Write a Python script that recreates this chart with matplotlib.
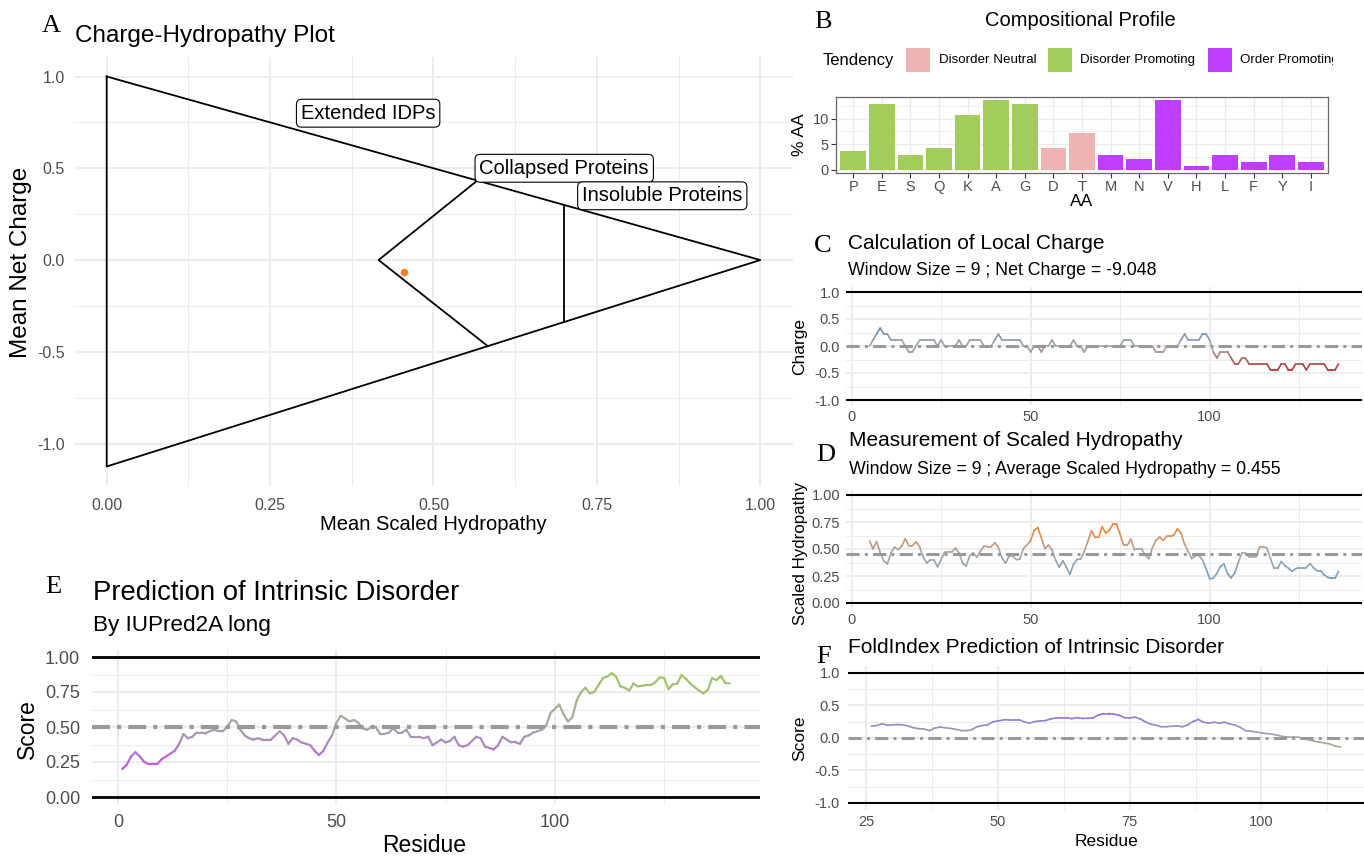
import numpy as np
import matplotlib
matplotlib.use("Agg")
import matplotlib.pyplot as plt
from matplotlib.collections import LineCollection
from matplotlib.colors import LinearSegmentedColormap, TwoSlopeNorm
from matplotlib.patches import Rectangle
from matplotlib.transforms import Bbox, TransformedBbox

plt.rcParams['font.family'] = ['Liberation Sans', 'DejaVu Sans']

W, H = 1364, 856

# ---------------- data ----------------
# A: charge-hydropathy plot
boundary_x = [0.0, 1.0, 0.0, 0.0]
boundary_y = [1.0, 0.0, -1.125, 1.0]
collapsed_x = [0.567, 0.416, 0.583]
collapsed_y = [0.433, 0.0, -0.469]
insoluble_x = [0.70, 0.70]
insoluble_y = [0.30, -0.3375]
region_labels = ['Extended IDPs', 'Collapsed Proteins', 'Insoluble Proteins']
region_label_x = [0.40, 0.70, 0.85]
region_label_y = [0.80, 0.50, 0.35]
protein_hydropathy = [0.455]
protein_charge = [-0.065]

# B: compositional profile
aa = ['P', 'E', 'S', 'Q', 'K', 'A', 'G', 'D', 'T', 'M', 'N', 'V', 'H', 'L', 'F', 'Y', 'I']
aa_pct = [3.57, 12.86, 2.86, 4.29, 10.71, 13.57, 12.86, 4.29, 7.14,
          2.86, 2.14, 13.57, 0.71, 2.86, 1.43, 2.86, 1.43]
aa_tendency = ['Disorder Promoting'] * 7 + ['Disorder Neutral'] * 2 + ['Order Promoting'] * 8
tendency_names = ['Disorder Neutral', 'Disorder Promoting', 'Order Promoting']
tendency_colors = {'Disorder Neutral': '#EEB4B4',
                   'Disorder Promoting': '#A2CD5A',
                   'Order Promoting': '#BF3EFF'}

# C: local charge (window 9), residues 5..136
charge_first = 5
local_charge = [
    0.0, 0.111, 0.222, 0.333, 0.222, 0.222, 0.111, 0.111, 0.111, 0.111,
    0.0, -0.111, -0.111, 0.0, 0.111, 0.111, 0.111, 0.111, 0.111, 0.0,
    0.111, 0.0, 0.0, 0.0, 0.0, 0.111, 0.0, 0.0, 0.111, 0.111,
    0.111, 0.111, 0.0, 0.0, 0.0, 0.111, 0.222, 0.111, 0.111, 0.111,
    0.111, 0.111, 0.111, 0.0, 0.0, -0.111, 0.0, 0.0, -0.111, 0.0,
    0.0, 0.111, 0.0, 0.0, 0.0, 0.0, 0.0, 0.111, 0.0, 0.0,
    -0.111, 0.0, 0.0, 0.0, 0.0, 0.0, 0.0, 0.0, 0.0, 0.0,
    0.0, 0.111, 0.111, 0.111, 0.0, 0.0, 0.0, 0.0, 0.0, 0.0,
    -0.111, -0.111, -0.111, 0.0, 0.0, 0.0, 0.0, 0.111, 0.222, 0.111,
    0.111, 0.111, 0.111, 0.222, 0.222, 0.111, -0.111, -0.222, -0.111, -0.111,
    -0.111, -0.222, -0.333, -0.333, -0.222, -0.222, -0.333, -0.333, -0.333, -0.333,
    -0.333, -0.333, -0.444, -0.444, -0.444, -0.333, -0.333, -0.444, -0.444, -0.333,
    -0.333, -0.333, -0.444, -0.333, -0.333, -0.333, -0.333, -0.333, -0.444, -0.444,
    -0.444, -0.333]

# D: scaled hydropathy (window 9), residues 5..136
hydro_first = 5
scaled_hydropathy = [
    0.574, 0.502, 0.568, 0.468, 0.390, 0.362, 0.462, 0.519, 0.494, 0.526,
    0.596, 0.531, 0.531, 0.565, 0.522, 0.427, 0.370, 0.400, 0.400, 0.335,
    0.400, 0.470, 0.474, 0.474, 0.509, 0.465, 0.370, 0.343, 0.438, 0.463,
    0.425, 0.481, 0.525, 0.523, 0.523, 0.558, 0.515, 0.420, 0.368, 0.436,
    0.436, 0.401, 0.406, 0.506, 0.537, 0.577, 0.672, 0.699, 0.604, 0.504,
    0.535, 0.491, 0.396, 0.331, 0.391, 0.331, 0.265, 0.360, 0.404, 0.407,
    0.478, 0.573, 0.668, 0.607, 0.611, 0.706, 0.646, 0.673, 0.730, 0.730,
    0.635, 0.535, 0.535, 0.591, 0.496, 0.500, 0.500, 0.443, 0.411, 0.510,
    0.580, 0.611, 0.581, 0.616, 0.616, 0.628, 0.685, 0.647, 0.543, 0.478,
    0.412, 0.437, 0.441, 0.398, 0.320, 0.225, 0.230, 0.273, 0.338, 0.362,
    0.272, 0.233, 0.277, 0.375, 0.465, 0.465, 0.427, 0.428, 0.428, 0.523,
    0.523, 0.509, 0.410, 0.320, 0.320, 0.385, 0.346, 0.322, 0.294, 0.317,
    0.327, 0.327, 0.327, 0.365, 0.327, 0.300, 0.300, 0.260, 0.237, 0.227,
    0.227, 0.293]
mean_hydropathy = 0.455

# E: IUPred2A long, residues 1..140
iupred_first = 1
iupred_score = [
    0.20, 0.23, 0.29, 0.32, 0.29, 0.25, 0.235, 0.235, 0.235, 0.27,
    0.29, 0.31, 0.33, 0.38, 0.45, 0.42, 0.43, 0.46, 0.46, 0.455,
    0.47, 0.48, 0.47, 0.47, 0.50, 0.55, 0.54, 0.48, 0.44, 0.42,
    0.41, 0.42, 0.41, 0.41, 0.41, 0.44, 0.47, 0.44, 0.38, 0.42,
    0.41, 0.39, 0.38, 0.37, 0.33, 0.30, 0.33, 0.39, 0.44, 0.53,
    0.58, 0.56, 0.54, 0.55, 0.53, 0.49, 0.48, 0.50, 0.50, 0.45,
    0.45, 0.46, 0.49, 0.46, 0.46, 0.48, 0.43, 0.43, 0.43, 0.42,
    0.43, 0.37, 0.39, 0.41, 0.39, 0.40, 0.43, 0.37, 0.36, 0.37,
    0.40, 0.43, 0.42, 0.36, 0.35, 0.34, 0.37, 0.43, 0.41, 0.39,
    0.39, 0.38, 0.43, 0.44, 0.46, 0.47, 0.48, 0.51, 0.60, 0.63,
    0.66, 0.59, 0.54, 0.57, 0.69, 0.75, 0.78, 0.74, 0.75, 0.80,
    0.85, 0.86, 0.885, 0.86, 0.79, 0.78, 0.76, 0.81, 0.79, 0.795,
    0.80, 0.80, 0.82, 0.855, 0.85, 0.77, 0.805, 0.81, 0.87, 0.845,
    0.81, 0.785, 0.76, 0.74, 0.765, 0.85, 0.835, 0.865, 0.815, 0.81]

# F: FoldIndex, residues 26..115
foldindex_first = 26
foldindex_score = [
    0.18, 0.19, 0.215, 0.195, 0.20, 0.205, 0.20, 0.18, 0.155, 0.14,
    0.135, 0.11, 0.15, 0.165, 0.155, 0.145, 0.13, 0.112, 0.11, 0.125,
    0.17, 0.19, 0.20, 0.245, 0.26, 0.275, 0.28, 0.28, 0.28, 0.245,
    0.225, 0.25, 0.26, 0.265, 0.29, 0.305, 0.31, 0.31, 0.295, 0.31,
    0.298, 0.30, 0.305, 0.35, 0.372, 0.372, 0.365, 0.346, 0.31, 0.305,
    0.318, 0.29, 0.245, 0.21, 0.193, 0.17, 0.172, 0.178, 0.183, 0.17,
    0.20, 0.25, 0.283, 0.24, 0.225, 0.24, 0.225, 0.24, 0.212, 0.195,
    0.16, 0.11, 0.102, 0.09, 0.075, 0.066, 0.056, 0.04, 0.022, 0.012,
    0.01, 0.01, -0.015, -0.03, -0.05, -0.065, -0.08, -0.095, -0.127, -0.14]

# ---------------- helpers ----------------
GRID = '#EBEBEB'
TICK = '#4D4D4D'
DOTDASH = (0, (4.3, 1.7, 1.0, 1.7))

fig = plt.figure(figsize=(W / 100, H / 100), dpi=100)
fig.patch.set_facecolor('white')


def px_axes(left, top, right, bottom):
    return fig.add_axes([left / W, 1 - bottom / H, (right - left) / W, (bottom - top) / H])


def ftext(x, y, s, **kw):
    return fig.text(x / W, 1 - y / H, s, **kw)


def minimal(ax, xmaj, xmin, ymaj, ymin, xlab, ylab, fs, xpad, ypad):
    for sp in ax.spines.values():
        sp.set_visible(False)
    ax.set_xticks(xmaj)
    ax.set_xticks(xmin, minor=True)
    ax.set_yticks(ymaj)
    ax.set_yticks(ymin, minor=True)
    ax.set_xticklabels(xlab)
    ax.set_yticklabels(ylab)
    ax.grid(True, which='major', color=GRID, lw=1.3)
    ax.grid(True, which='minor', color=GRID, lw=0.7)
    ax.set_axisbelow(True)
    ax.tick_params(which='both', length=0, labelsize=fs, labelcolor=TICK)
    ax.tick_params(axis='x', pad=xpad)
    ax.tick_params(axis='y', pad=ypad)


def gradient_line(ax, x, y, colors, vmin, vcenter, vmax, lw):
    cmap = LinearSegmentedColormap.from_list('grad', colors)
    norm = TwoSlopeNorm(vcenter=vcenter, vmin=vmin, vmax=vmax)
    x = np.asarray(x, float)
    y = np.asarray(y, float)
    pts = np.column_stack([x, y]).reshape(-1, 1, 2)
    segs = np.concatenate([pts[:-1], pts[1:]], axis=1)
    lc = LineCollection(segs, cmap=cmap, norm=norm, linewidths=lw,
                        capstyle='round', joinstyle='round', zorder=3)
    lc.set_array((y[:-1] + y[1:]) / 2)
    ax.add_collection(lc)


def panel_letter(x, y, s):
    ftext(x, y, s, family='Liberation Serif', fontsize=19, va='baseline', ha='left')


# ---------------- A: charge-hydropathy ----------------
ax_a = px_axes(74, 57, 793, 486)
ax_a.set_xlim(-0.05, 1.05)
ax_a.set_ylim(-1.23125, 1.10625)
minimal(ax_a, [0, 0.25, 0.5, 0.75, 1.0], [0.125, 0.375, 0.625, 0.875],
        [-1, -0.5, 0, 0.5, 1], [-0.75, -0.25, 0.25, 0.75],
        ['0.00', '0.25', '0.50', '0.75', '1.00'], ['-1.0', '-0.5', '0.0', '0.5', '1.0'],
        11.5, 8.5, 6.5)
ax_a.plot(boundary_x, boundary_y, color='black', lw=1.3, zorder=2)
ax_a.plot(collapsed_x, collapsed_y, color='black', lw=1.3, zorder=2)
ax_a.plot(insoluble_x, insoluble_y, color='black', lw=1.3, zorder=2)
for lbl, lx, ly in zip(region_labels, region_label_x, region_label_y):
    ax_a.text(lx, ly, lbl, ha='center', va='center', fontsize=14.5, zorder=4,
              bbox=dict(boxstyle='round,pad=0.22,rounding_size=0.25', fc='white', ec='black', lw=0.8))
ax_a.scatter(protein_hydropathy, protein_charge, s=30, color='#FF7F24', zorder=5, linewidths=0)
panel_letter(42, 32.5, 'A')
ftext(75, 42, 'Charge-Hydropathy Plot', fontsize=17.5, va='baseline')
ftext(433, 524, 'Mean Scaled Hydropathy', fontsize=14.5, ha='center', va='center')
ftext(21, 262, 'Mean Net Charge', fontsize=17.5, ha='center', va='center', rotation=90)

# ---------------- B: compositional profile ----------------
ax_b = px_axes(836, 97, 1328, 173)
pos = np.arange(len(aa))
ax_b.bar(pos, aa_pct, width=0.9, color=[tendency_colors[t] for t in aa_tendency], zorder=3)
ax_b.set_xlim(-0.6, len(aa) - 0.4)
ax_b.set_ylim(-0.68, 14.25)
ax_b.set_xticks(pos)
ax_b.set_xticklabels(aa)
ax_b.set_yticks([0, 5, 10])
ax_b.set_yticks([2.5, 7.5, 12.5], minor=True)
ax_b.grid(True, which='major', color=GRID, lw=1.0)
ax_b.grid(True, which='minor', axis='y', color=GRID, lw=0.5)
ax_b.set_axisbelow(True)
for sp in ax_b.spines.values():
    sp.set_color('#666666')
    sp.set_linewidth(0.9)
ax_b.tick_params(which='major', length=3.5, width=0.8, color='#333333', labelsize=10.5,
                 labelcolor=TICK, pad=1.5)
ax_b.tick_params(which='minor', length=0)
panel_letter(814, 28, 'B')
ftext(1080, 26, 'Compositional Profile', fontsize=14.5, ha='center', va='baseline')
ftext(1082, 202, 'AA', fontsize=12.5, ha='center', va='center')
ftext(800, 135, '% AA', fontsize=12.5, ha='center', va='center', rotation=90)
# legend (the last label runs past the right edge in the original and is cut off)
ftext(823, 60, 'Tendency', fontsize=12, va='center')
key_left = [906, 1048, 1208]
label_left = [939, 1080, 1240]
clip = TransformedBbox(Bbox([[0, 0], [1333 / W, 1]]), fig.transFigure)
for name, kx, tx in zip(tendency_names, key_left, label_left):
    fig.add_artist(Rectangle((kx / W, 1 - 72 / H), 24 / W, 24 / H, transform=fig.transFigure,
                             fc=tendency_colors[name], ec='none'))
    t = ftext(tx, 60, name, fontsize=9.6, va='center')
    t.set_clip_box(clip)
    t.set_clip_on(True)

# ---------------- C: local charge ----------------
ax_c = px_axes(846, 286.6, 1362, 405.4)
ax_c.set_xlim(-1.55, 142.55)
ax_c.set_ylim(-1.1, 1.1)
minimal(ax_c, [0, 50, 100], [25, 75, 125], [-1, -0.5, 0, 0.5, 1], [-0.75, -0.25, 0.25, 0.75],
        ['0', '50', '100'], ['-1.0', '-0.5', '0.0', '0.5', '1.0'], 10.5, 3.5, 4.3)
ax_c.axhline(1, color='black', lw=1.5, zorder=2)
ax_c.axhline(-1, color='black', lw=1.5, zorder=2)
res_c = charge_first + np.arange(len(local_charge))
gradient_line(ax_c, res_c, local_charge, ['#B22222', '#A6A6A6', '#3A7DC0'], -0.5, 0.0, 0.5, 1.2)
ax_c.axhline(0, color='#999999', lw=2.2, ls=DOTDASH, zorder=4)
panel_letter(814, 252, 'C')
ftext(848, 249, 'Calculation of Local Charge', fontsize=15, va='baseline')
ftext(848, 275, 'Window Size = 9 ; Net Charge = -9.048', fontsize=12.8, va='baseline')
ftext(800, 346, 'Charge', fontsize=12.5, ha='center', va='center', rotation=90)

# ---------------- D: scaled hydropathy ----------------
ax_d = px_axes(846, 489.6, 1362, 608.4)
ax_d.set_xlim(-1.55, 142.55)
ax_d.set_ylim(-0.05, 1.05)
minimal(ax_d, [0, 50, 100], [25, 75, 125], [0, 0.25, 0.5, 0.75, 1.0], [0.125, 0.375, 0.625, 0.875],
        ['0', '50', '100'], ['0.00', '0.25', '0.50', '0.75', '1.00'], 10.5, 3.5, 4.3)
ax_d.axhline(1, color='black', lw=1.5, zorder=2)
ax_d.axhline(0, color='black', lw=1.5, zorder=2)
res_d = hydro_first + np.arange(len(scaled_hydropathy))
gradient_line(ax_d, res_d, scaled_hydropathy, ['#6A9FCB', '#A6A6A6', '#F8822A'],
              0.2, mean_hydropathy, 0.72, 1.2)
ax_d.axhline(mean_hydropathy, color='#999999', lw=2.2, ls=DOTDASH, zorder=4)
panel_letter(816, 461, 'D')
ftext(849, 446.5, 'Measurement of Scaled Hydropathy', fontsize=15, va='baseline')
ftext(849, 474.5, 'Window Size = 9 ; Average Scaled Hydropathy = 0.455', fontsize=12.8, va='baseline')
ftext(800, 553, 'Scaled Hydropathy', fontsize=12.2, ha='center', va='center', rotation=90)

# ---------------- E: IUPred2A ----------------
ax_e = px_axes(92, 650, 760, 804)
ax_e.set_xlim(-5.95, 146.95)
ax_e.set_ylim(-0.05, 1.05)
minimal(ax_e, [0, 50, 100], [25, 75, 125], [0, 0.25, 0.5, 0.75, 1.0], [0.125, 0.375, 0.625, 0.875],
        ['0', '50', '100'], ['0.00', '0.25', '0.50', '0.75', '1.00'], 13, 7, 8.5)
ax_e.axhline(1, color='black', lw=2.0, zorder=2)
ax_e.axhline(0, color='black', lw=2.0, zorder=2)
res_e = iupred_first + np.arange(len(iupred_score))
gradient_line(ax_e, res_e, iupred_score, ['#BF3EFF', '#A6A6A6', '#A2CD5A'], 0.1, 0.5, 0.95, 1.6)
ax_e.axhline(0.5, color='#999999', lw=3.0, ls=DOTDASH, zorder=4)
panel_letter(45, 593, 'E')
ftext(93, 600, 'Prediction of Intrinsic Disorder', fontsize=19.8, va='baseline')
ftext(93, 630.5, 'By IUPred2A long', fontsize=16.2, va='baseline')
ftext(424, 845, 'Residue', fontsize=16.5, ha='center', va='center')
ftext(27, 729, 'Score', fontsize=16.5, ha='center', va='center', rotation=90)

# ---------------- F: FoldIndex ----------------
ax_f = px_axes(848, 666.2, 1364, 809.5)
ax_f.set_xlim(21.55, 119.45)
ax_f.set_ylim(-1.1, 1.1)
minimal(ax_f, [25, 50, 75, 100], [37.5, 62.5, 87.5, 112.5], [-1, -0.5, 0, 0.5, 1],
        [-0.75, -0.25, 0.25, 0.75], ['25', '50', '75', '100'],
        ['-1.0', '-0.5', '0.0', '0.5', '1.0'], 10.5, 4, 5.8)
ax_f.axhline(1, color='black', lw=1.5, zorder=2)
ax_f.axhline(-1, color='black', lw=1.5, zorder=2)
res_f = foldindex_first + np.arange(len(foldindex_score))
gradient_line(ax_f, res_f, foldindex_score, ['#D4A040', '#A6A6A6', '#8A5CF5'], -0.5, 0.0, 0.5, 1.2)
ax_f.axhline(0, color='#999999', lw=2.2, ls=DOTDASH, zorder=4)
panel_letter(816, 663, 'F')
ftext(848, 653, 'FoldIndex Prediction of Intrinsic Disorder', fontsize=15, va='baseline')
ftext(1106, 842, 'Residue', fontsize=12.5, ha='center', va='center')
ftext(800, 738, 'Score', fontsize=12.5, ha='center', va='center', rotation=90)

fig.savefig('out.png', dpi=100, facecolor='white')
